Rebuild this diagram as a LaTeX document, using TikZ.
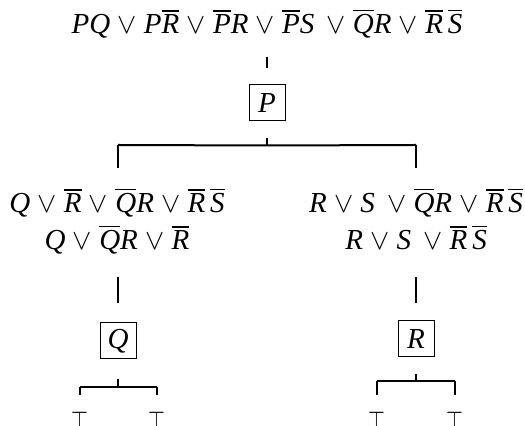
\documentclass[tikz,border=0pt]{standalone}
\usepackage{amsmath}
\usepackage{fontspec}
\setmainfont{Liberation Serif}
\newcommand\nlit[1]{$\overline{\mbox{#1}}$}
\tikzset{
  fml/.style={font=\fontsize{14.5}{18.5}\selectfont\itshape,align=center,inner sep=0pt,anchor=base},
  var/.style={draw,line width=.5pt,minimum size=18pt,inner sep=0pt,font=\fontsize{14.5}{18.5}\selectfont\itshape},
  tp/.style={font=\fontsize{15}{18}\selectfont,inner sep=0pt,anchor=north},
  br/.style={line width=1pt}
}
\begin{document}
\begin{tikzpicture}[x=.5pt,y=-.5pt]
    \clip(0,0)rectangle(525,426);
    \node[fml](f0)at(267,34){PQ $\vee$ P\nlit{R} $\vee$ \nlit{P}R $\vee$ \nlit{P}S\, $\vee$ \nlit{Q}R $\vee$ \nlit{R}\,\nlit{S}};
    \node[var](p)at(267,103){P};
    \node[fml](fl)at(117,250){Q $\vee$ \nlit{R} $\vee$ \nlit{Q}R $\vee$ \nlit{R}\,\nlit{S}\\Q $\vee$ \nlit{Q}R $\vee$ \nlit{R}};
    \node[fml](fr)at(416,250){R $\vee$ S\, $\vee$ \nlit{Q}R $\vee$ \nlit{R}\,\nlit{S}\\R $\vee$ S\, $\vee$ \nlit{R}\,\nlit{S}};
    \node[var](q)at(118,341){Q};
    \node[var](r)at(416,339){R};
    \foreach\nm/\x in{t1/80,t2/157,t3/377,t4/455}
    \node[tp](\nm)at(\x,411){\scalebox{.75}[1]{$\top$}};
    % forks between the levels
    \draw[br](267,57)--(267,68);
    \draw[br](p.south)++(0,17)--++(0,7)coordinate(pf);
    \draw[br](118,145)--(pf)--(416,145);
    \draw[br](118,145)--++(0,23);
    \draw[br](416,145)--++(0,23);
    \draw[br](q.north)++(0,-19)--++(0,-26);
    \draw[br](r.north)++(0,-17)--++(0,-26);
    \draw[br](q.south)++(0,20)--++(0,8)coordinate(qf);
    \draw[br](t1.north|-qf)--(qf)--(t2.north|-qf);
    \draw[br](t1.north|-qf)--++(0,8)(t2.north|-qf)--++(0,8);
    \draw[br](r.south)++(0,17)--++(0,7)coordinate(rf);
    \draw[br](t3.north|-rf)--(rf)--(t4.north|-rf);
    \draw[br](t3.north|-rf)--++(0,14)(t4.north|-rf)--++(0,14);
  \end{tikzpicture}
\end{document}
